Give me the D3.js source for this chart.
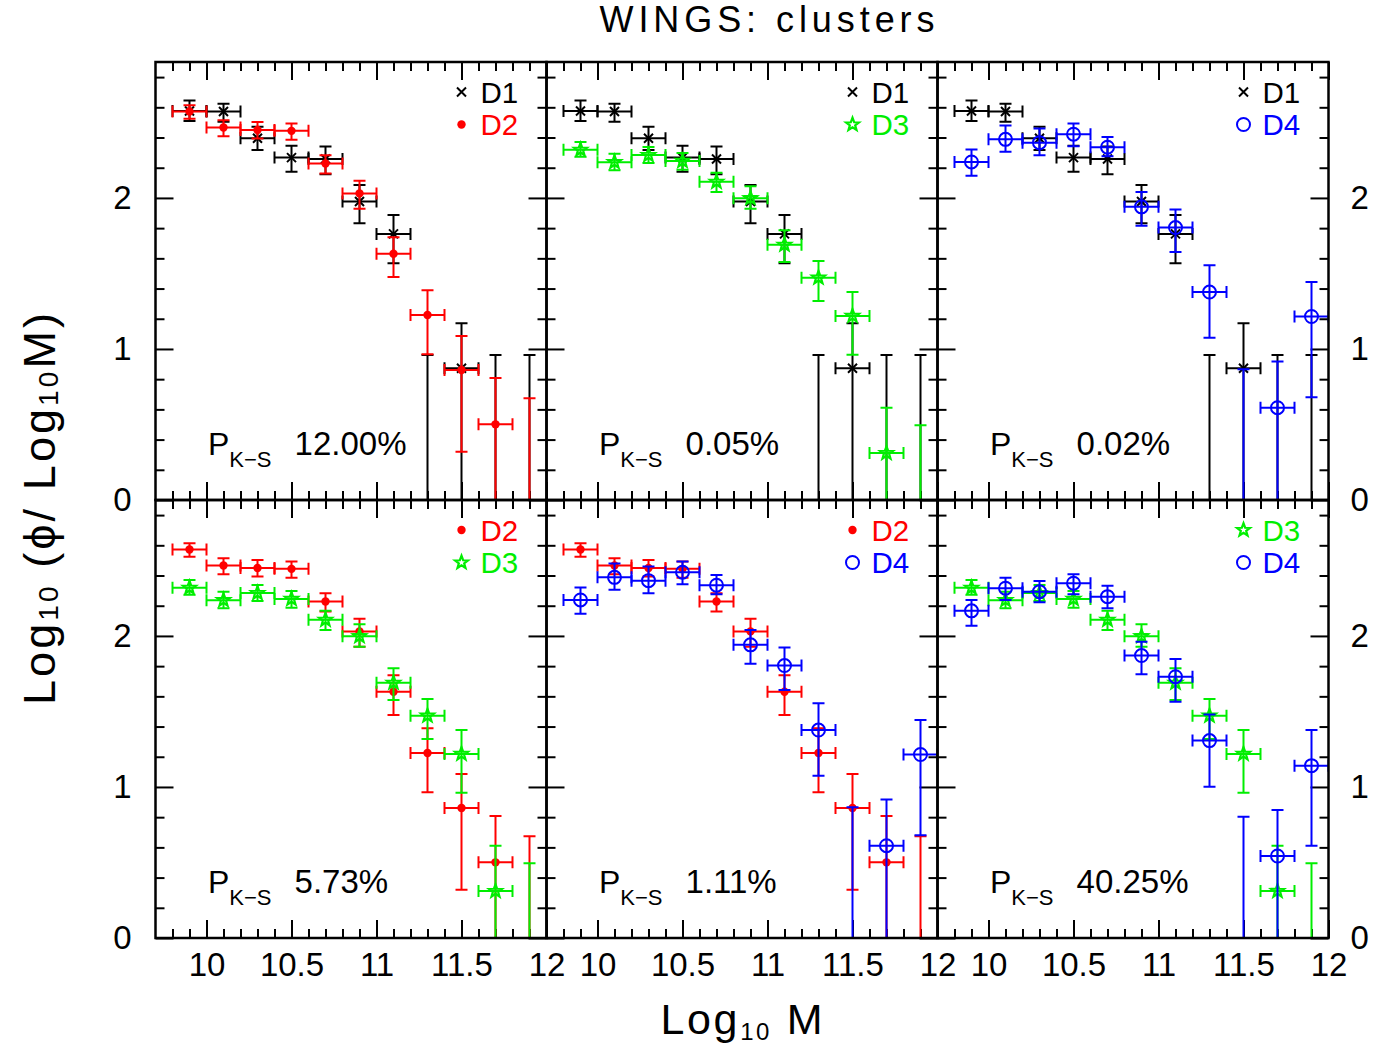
<!DOCTYPE html>
<html>
<head>
<meta charset="utf-8">
<script src="https://cdn.jsdelivr.net/npm/d3@7"></script>
<style>
  html, body { margin: 0; padding: 0; background: #fff; }
  svg { display: block; font-family: "Liberation Sans", Arial, sans-serif; }
</style>
</head>
<body>
<svg id="chart" width="1380" height="1046"></svg>
<script>
// Mass bins (bin centres, half width 0.1 dex)
const massBins = [9.9, 10.1, 10.3, 10.5, 10.7, 10.9, 11.1, 11.3, 11.5, 11.7, 11.9];
const binHalfWidth = 0.1;

// log10 phi per bin; null value = upper limit only; null low = error bar extends off the axis
const d1Val = [2.576, 2.572, 2.395, 2.267, 2.258, 1.976, 1.762, null, 0.872, null, null];
const d1Lo  = [2.510, 2.505, 2.318, 2.174, 2.157, 1.832, 1.567, null, null, null, null];
const d1Hi  = [2.645, 2.623, 2.472, 2.346, 2.340, 2.086, 1.887, 0.960, 1.170, 0.960, 0.960];

const d2Val = [2.572, 2.466, 2.450, 2.444, 2.228, 2.030, 1.630, 1.225, 0.861, 0.501, null];
const d2Lo  = [2.525, 2.409, 2.393, 2.386, 2.161, 1.929, 1.477, 0.965, 0.320, null, null];
const d2Hi  = [2.614, 2.515, 2.503, 2.492, 2.283, 2.113, 1.740, 1.389, 1.086, 0.808, 0.673];

const d3Val = [2.319, 2.237, 2.284, 2.245, 2.107, 1.998, 1.690, 1.472, 1.219, 0.311, null];
const d3Lo  = [2.272, 2.183, 2.232, 2.187, 2.040, 1.929, 1.576, 1.318, 0.962, null, null];
const d3Hi  = [2.371, 2.293, 2.338, 2.298, 2.166, 2.077, 1.786, 1.583, 1.377, 0.611, 0.495];

const d4Val = [2.238, 2.388, 2.366, 2.422, 2.336, 1.941, 1.804, 1.377, null, 0.611, 1.215];
const d4Lo  = [2.147, 2.305, 2.283, 2.342, 2.276, 1.815, 1.642, 1.075, null, null, 0.680];
const d4Hi  = [2.320, 2.480, 2.459, 2.492, 2.404, 2.040, 1.923, 1.554, 0.865, 0.917, 1.444];

// D4 renormalised against D3
const d4rVal = [2.166, 2.316, 2.293, 2.349, 2.260, 1.870, 1.730, 1.307, null, 0.543, 1.141];
const d4rLo  = [2.068, 2.238, 2.223, 2.276, 2.183, 1.746, 1.565, 1.002, null, null, 0.611];
const d4rHi  = [2.238, 2.386, 2.364, 2.409, 2.333, 1.962, 1.848, 1.480, 0.803, 0.848, 1.377];

// K-S probabilities per panel
const ksLabels = ["12.00%", "0.05%", "0.02%", "5.73%", "1.11%", "40.25%"];

// Axis ticks
const xMajor = [10, 10.5, 11, 11.5, 12];
const xMinor = [9.8, 9.9, 10.1, 10.2, 10.3, 10.4, 10.6, 10.7, 10.8, 10.9, 11.1, 11.2, 11.3, 11.4, 11.6, 11.7, 11.8, 11.9];
const yMajor = [0, 1, 2];
const yMinor = [0.2, 0.4, 0.6, 0.8, 1.2, 1.4, 1.6, 1.8, 2.2, 2.4, 2.6, 2.8];

const series = {
  D1: { name: "D1", color: "#000000", marker: "cross",  val: d1Val,  lo: d1Lo,  hi: d1Hi },
  D2: { name: "D2", color: "#ff0000", marker: "dot",    val: d2Val,  lo: d2Lo,  hi: d2Hi },
  D3: { name: "D3", color: "#00ee00", marker: "star",   val: d3Val,  lo: d3Lo,  hi: d3Hi },
  D4: { name: "D4", color: "#0000ff", marker: "circle", val: d4Val,  lo: d4Lo,  hi: d4Hi },
  D4r:{ name: "D4", color: "#0000ff", marker: "circle", val: d4rVal, lo: d4rLo, hi: d4rHi }
};

const panels = [
  { row: 0, col: 0, pair: ["D1", "D2"], ks: ksLabels[0] },
  { row: 0, col: 1, pair: ["D1", "D3"], ks: ksLabels[1] },
  { row: 0, col: 2, pair: ["D1", "D4"], ks: ksLabels[2] },
  { row: 1, col: 0, pair: ["D2", "D3"], ks: ksLabels[3] },
  { row: 1, col: 1, pair: ["D2", "D4"], ks: ksLabels[4] },
  { row: 1, col: 2, pair: ["D3", "D4r"], ks: ksLabels[5] }
];

// Layout
const plotLeft = 155.5, plotTop = 62, panelW = 391, panelH = 438;
const xDomain = [9.7, 12], yDomain = [0, 2.9];
const yFloor = -0.6;          // open-ended lower error bars run to here (clipped)
const cap = 6;                // error bar cap half-length
const tickMajor = 18, tickMinor = 9;
const legendStep = 32.5;
const font = "Liberation Sans, Arial, sans-serif";

const svg = d3.select("#chart");
const defs = svg.append("defs");

function starPath(R, r) {
  const pts = [];
  for (let k = 0; k < 10; k++) {
    const a = -Math.PI / 2 + k * Math.PI / 5;
    const rad = k % 2 === 0 ? R : r;
    pts.push([rad * Math.cos(a), rad * Math.sin(a)]);
  }
  return "M" + pts.map(p => p[0].toFixed(2) + "," + p[1].toFixed(2)).join("L") + "Z";
}

function drawMarker(g, type, cx, cy, color) {
  if (type === "cross") {
    const s = 4.5;
    g.append("path")
      .attr("d", `M${cx - s},${cy - s}L${cx + s},${cy + s}M${cx - s},${cy + s}L${cx + s},${cy - s}`)
      .attr("stroke", color).attr("stroke-width", 2).attr("fill", "none");
  } else if (type === "dot") {
    g.append("circle").attr("cx", cx).attr("cy", cy).attr("r", 4.2).attr("fill", color);
  } else if (type === "star") {
    g.append("path").attr("d", starPath(6.8, 2.8))
      .attr("transform", `translate(${cx},${cy})`)
      .attr("fill", "none").attr("stroke", color).attr("stroke-width", 2.2)
      .attr("stroke-linejoin", "miter");
  } else if (type === "circle") {
    g.append("circle").attr("cx", cx).attr("cy", cy).attr("r", 6.5)
      .attr("fill", "none").attr("stroke", color).attr("stroke-width", 2);
  }
}

function styleAxis(sel, size) {
  sel.select(".domain").remove();
  sel.selectAll(".tick line").attr("stroke", "#000").attr("stroke-width", 2);
  sel.selectAll(".tick text").attr("font-size", size).attr("font-family", font).attr("fill", "#000");
  sel.attr("font-family", font);
}

panels.forEach((p, pi) => {
  const x0 = plotLeft + p.col * panelW, x1 = x0 + panelW;
  const y0 = plotTop + p.row * panelH, y1 = y0 + panelH;
  const x = d3.scaleLinear().domain(xDomain).range([x0, x1]);
  const y = d3.scaleLinear().domain(yDomain).range([y1, y0]);

  const g = svg.append("g");

  // clip region for data
  const clipId = "clip" + pi;
  defs.append("clipPath").attr("id", clipId)
    .append("rect").attr("x", x0).attr("y", y0).attr("width", panelW).attr("height", panelH);

  // inward ticks on all four sides
  const bottomMinor = g.append("g").attr("transform", `translate(0,${y1})`)
    .call(d3.axisBottom(x).tickValues(xMinor).tickSize(-tickMinor).tickFormat(""));
  styleAxis(bottomMinor, 33);
  const bottomMajor = g.append("g").attr("transform", `translate(0,${y1})`)
    .call(d3.axisBottom(x).tickValues(xMajor).tickSize(-tickMajor).tickPadding(15)
      .tickFormat(p.row === 1 ? d3.format("") : ""));
  styleAxis(bottomMajor, 33);
  const topMinor = g.append("g").attr("transform", `translate(0,${y0})`)
    .call(d3.axisTop(x).tickValues(xMinor).tickSize(-tickMinor).tickFormat(""));
  styleAxis(topMinor, 33);
  const topMajor = g.append("g").attr("transform", `translate(0,${y0})`)
    .call(d3.axisTop(x).tickValues(xMajor).tickSize(-tickMajor).tickFormat(""));
  styleAxis(topMajor, 33);

  const leftMinor = g.append("g").attr("transform", `translate(${x0},0)`)
    .call(d3.axisLeft(y).tickValues(yMinor).tickSize(-tickMinor).tickFormat(""));
  styleAxis(leftMinor, 33);
  const leftMajor = g.append("g").attr("transform", `translate(${x0},0)`)
    .call(d3.axisLeft(y).tickValues(yMajor).tickSize(-tickMajor).tickPadding(24)
      .tickFormat(p.col === 0 ? d3.format("d") : ""));
  styleAxis(leftMajor, 33);
  const rightMinor = g.append("g").attr("transform", `translate(${x1},0)`)
    .call(d3.axisRight(y).tickValues(yMinor).tickSize(-tickMinor).tickFormat(""));
  styleAxis(rightMinor, 33);
  const rightMajor = g.append("g").attr("transform", `translate(${x1},0)`)
    .call(d3.axisRight(y).tickValues(yMajor).tickSize(-tickMajor).tickPadding(22)
      .tickFormat(p.col === 2 ? d3.format("d") : ""));
  styleAxis(rightMajor, 33);

  // data with error bars
  const data = g.append("g").attr("clip-path", `url(#${clipId})`);
  p.pair.forEach(key => {
    const s = series[key];
    const sg = data.append("g").attr("stroke", s.color).attr("stroke-width", 2).attr("fill", "none");
    massBins.forEach((m, i) => {
      const v = s.val[i], lo = s.lo[i], hi = s.hi[i];
      const cx = x(m);
      const yTop = y(hi);
      const yBot = y(lo === null ? yFloor : lo);
      // vertical error bar
      let d = `M${cx},${yBot}L${cx},${yTop}M${cx - cap},${yTop}L${cx + cap},${yTop}`;
      if (lo !== null) d += `M${cx - cap},${yBot}L${cx + cap},${yBot}`;
      if (v !== null) {
        const cy = y(v), xa = x(m - binHalfWidth), xb = x(m + binHalfWidth);
        d += `M${xa},${cy}L${xb},${cy}M${xa},${cy - cap}L${xa},${cy + cap}M${xb},${cy - cap}L${xb},${cy + cap}`;
      }
      sg.append("path").attr("d", d);
      if (v !== null) drawMarker(data, s.marker, cx, y(v), s.color);
    });
  });

  // frame
  g.append("rect").attr("x", x0).attr("y", y0).attr("width", panelW).attr("height", panelH)
    .attr("fill", "none").attr("stroke", "#000").attr("stroke-width", 2.5);

  // legend
  p.pair.forEach((key, k) => {
    const s = series[key];
    const cy = y0 + 30 + k * legendStep;
    drawMarker(g, s.marker, x1 - 85, cy, s.color);
    g.append("text").attr("x", x1 - 66).attr("y", cy + 10.5)
      .attr("font-size", 29.5).attr("font-family", font).attr("fill", s.color)
      .text(s.name);
  });

  // K-S probability
  const t = g.append("text").attr("x", x0 + 52.5).attr("y", y0 + 393)
    .attr("font-family", font).attr("fill", "#000");
  t.append("tspan").attr("font-size", 32).text("P");
  t.append("tspan").attr("font-size", 22).attr("dy", 12).text("K\u2212S");
  t.append("tspan").attr("font-size", 33).attr("dy", -12).attr("dx", 23).text(p.ks);
});

// title
svg.append("text").attr("x", 767).attr("y", 32).attr("text-anchor", "middle")
  .attr("font-size", 36).attr("font-family", font)
  .attr("textLength", 335).attr("lengthAdjust", "spacing")
  .text("WINGS: clusters");

// x axis title
const xt = svg.append("text").attr("x", 741.5).attr("y", 1034).attr("text-anchor", "middle")
  .attr("font-size", 43).attr("font-family", font)
  .attr("textLength", 162).attr("lengthAdjust", "spacing");
xt.append("tspan").text("Log");
xt.append("tspan").attr("font-size", 24).attr("dy", 6).text("10");
xt.append("tspan").attr("dy", -6).text(" M");

// y axis title
const yt = svg.append("text").attr("transform", "translate(55,509) rotate(-90)")
  .attr("text-anchor", "middle").attr("font-size", 45).attr("font-family", font)
  .attr("textLength", 392).attr("lengthAdjust", "spacing");
yt.append("tspan").text("Log");
yt.append("tspan").attr("font-size", 28).attr("dy", 3).text("10");
yt.append("tspan").attr("dy", -3).text(" (\u03d5/ Log");
yt.append("tspan").attr("font-size", 28).attr("dy", 3).text("10");
yt.append("tspan").attr("dy", -3).text("M)");
</script>
</body>
</html>
